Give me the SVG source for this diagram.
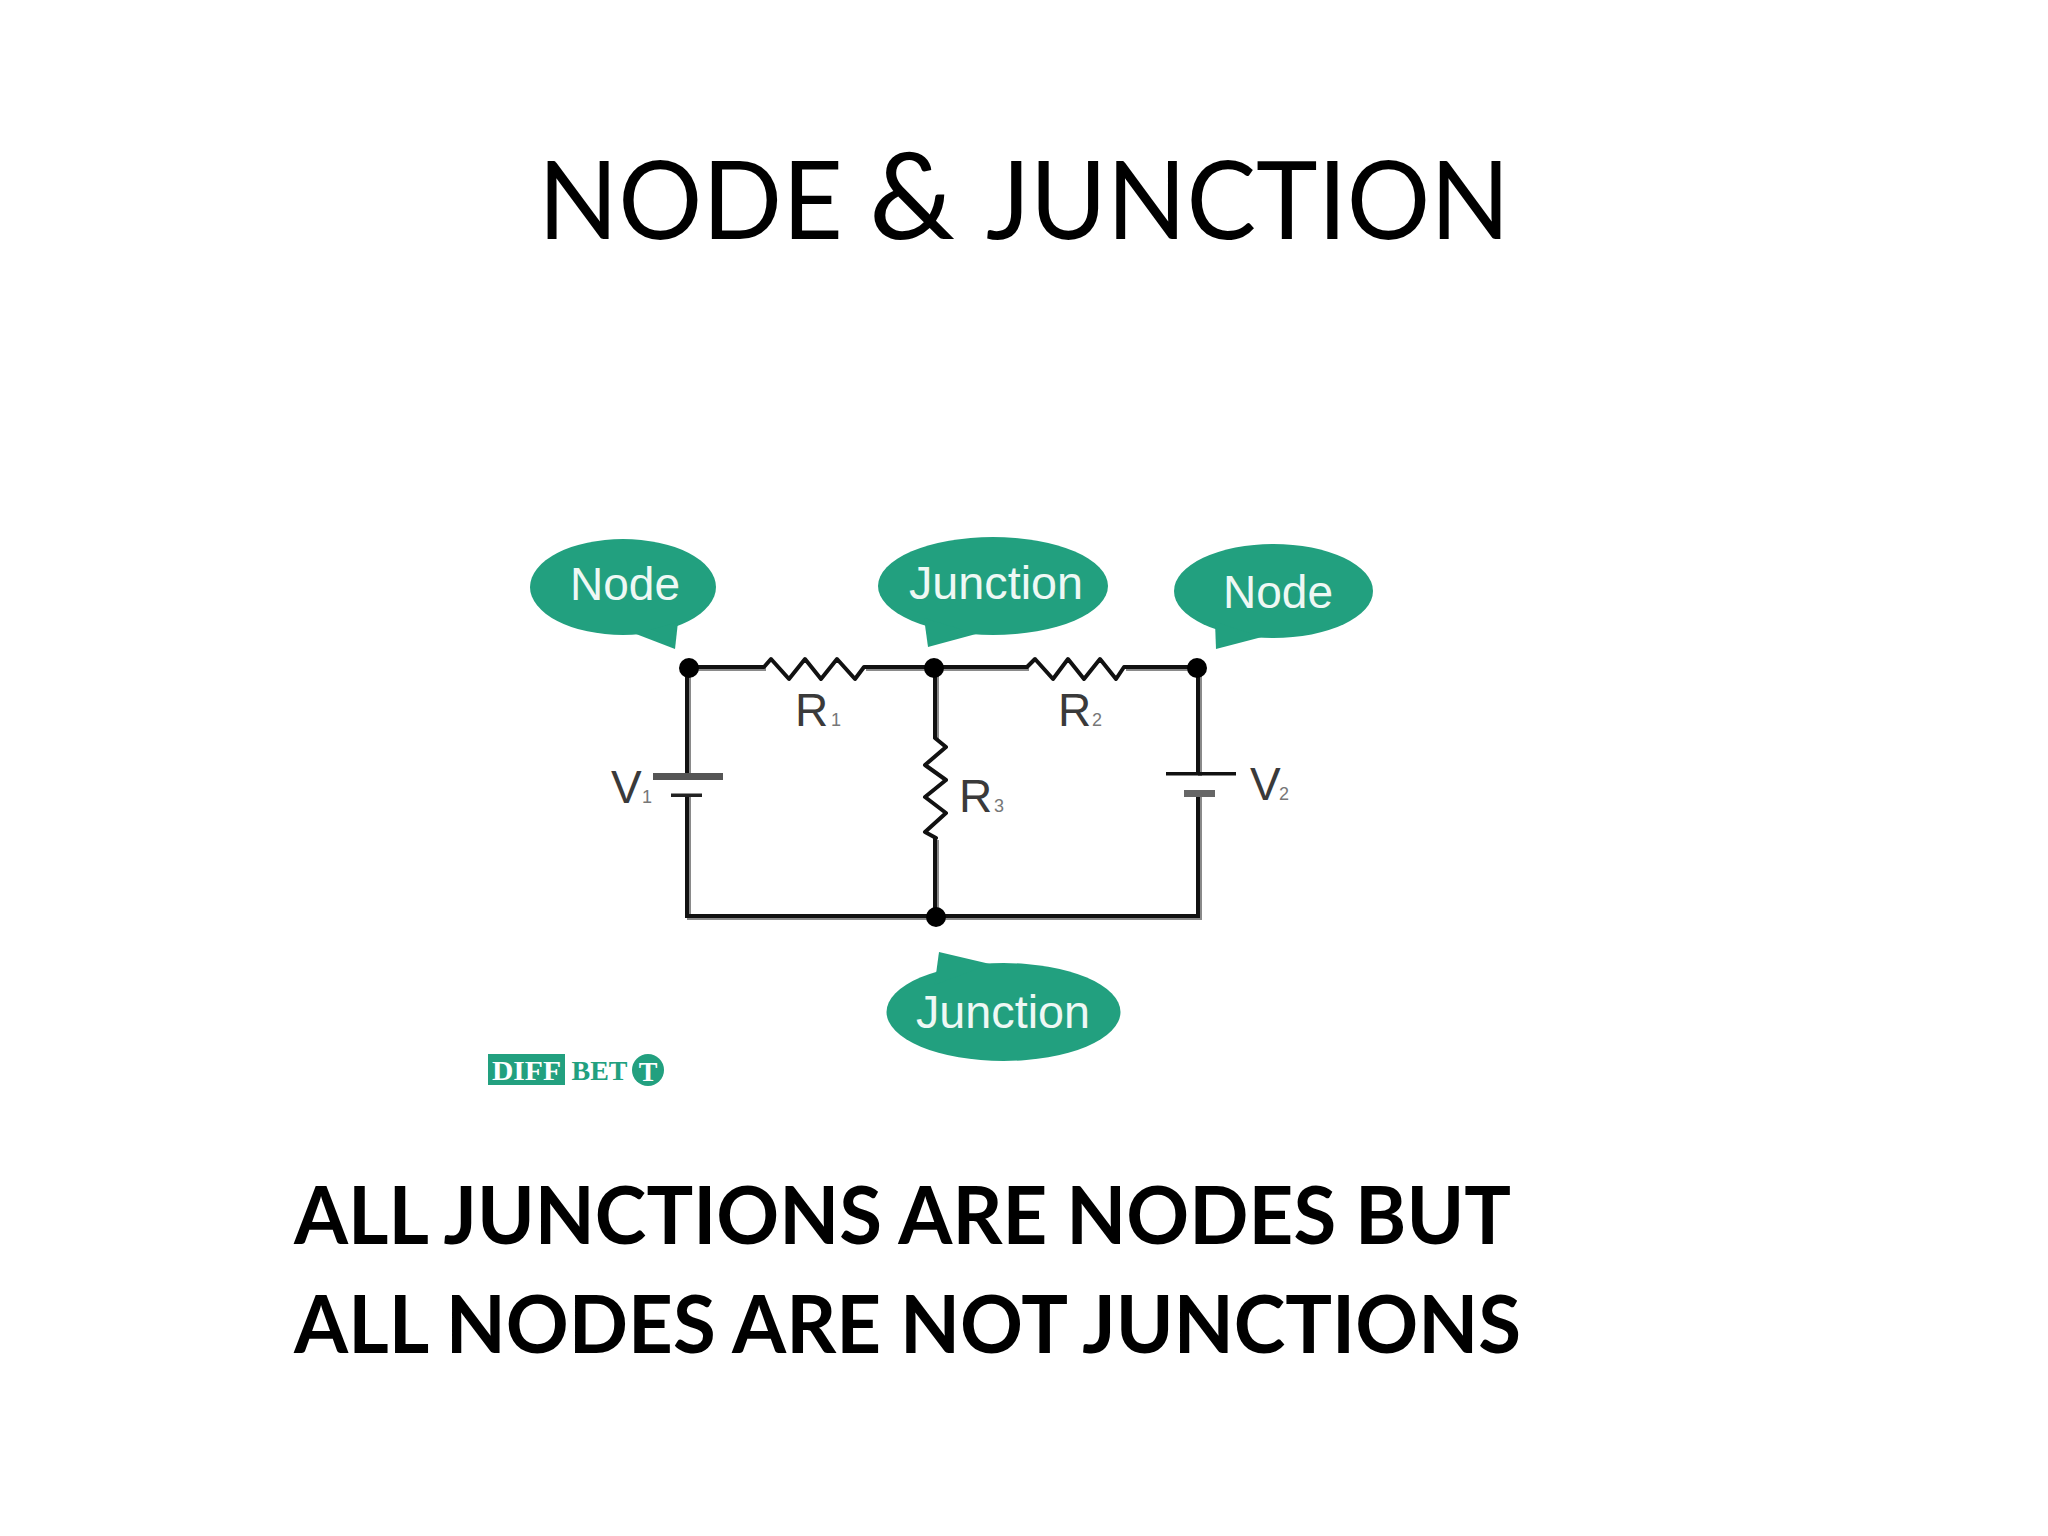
<svg xmlns="http://www.w3.org/2000/svg" width="2048" height="1536" viewBox="0 0 2048 1536">
<style>
.bub{fill:#22a07f}
.bl{font-family:"Liberation Sans",Arial,sans-serif;font-size:46px;fill:#eef8f4;text-anchor:middle}
.w{fill:none;stroke:#111;stroke-width:4}
.s{fill:none;stroke:#8a8a8a;stroke-width:4}
.r{fill:none;stroke:#111;stroke-width:4;stroke-linejoin:round;stroke-linecap:round}
.dot{fill:#000}
.lab{font-family:"Liberation Sans",Arial,sans-serif;font-size:46px;fill:#3a3a3a}
.sub{font-family:"Liberation Sans",Arial,sans-serif;font-size:18px;fill:#777}
.big{font-family:Lato,"Liberation Sans",sans-serif;fill:#000}
.logo{font-family:"Liberation Serif",serif;font-weight:bold}
</style>
<rect width="2048" height="1536" fill="#fff"/>
<g id="title">
<text class="big" x="538" y="239" font-size="108" textLength="305" lengthAdjust="spacingAndGlyphs">NODE</text>
<text class="big" x="869" y="239" font-size="121">&amp;</text>
<text class="big" x="986" y="239" font-size="108" textLength="524" lengthAdjust="spacingAndGlyphs">JUNCTION</text>
</g>
<g id="connectors">
<path class="s" transform="translate(2,2)" d="M689 667H764M864 667H1027M1124 667H1198V774M1198 793V916H687V795M687 775V667M935 667V738M935 838V916"/>
<path class="w" d="M689 667H764M864 667H1027M1124 667H1198V774M1198 793V916H687V795M687 775V667M935 667V738M935 838V916"/>
<path class="r" d="M764 667L771 659L789 679L805 659L821 679L837 659L855 679L864 667"/>
<path class="r" d="M1027 667L1035 659L1053 679L1068 659L1084 679L1100 659L1116 679L1124 667"/>
<path class="r" d="M935 738L946 747L925 765L946 780L925 797L946 813L925 832L936 838"/>
</g>
<g id="battery-v1"><rect x="653" y="773" width="70" height="7" fill="#555"/><rect x="671" y="793.500" width="31" height="3.500" fill="#222"/><text class="lab" x="611" y="803">V</text><text class="sub" x="642" y="803">1</text></g>
<g id="battery-v2"><rect x="1166" y="772" width="70" height="3.500" fill="#111"/><rect x="1184" y="790" width="31" height="7" fill="#666"/><text class="lab" x="1250" y="800">V</text><text class="sub" x="1279" y="800">2</text></g>
<g id="r1"><text class="lab" x="795" y="726">R</text><text class="sub" x="831" y="726">1</text></g>
<g id="r2"><text class="lab" x="1058" y="726">R</text><text class="sub" x="1092" y="726">2</text></g>
<g id="r3"><text class="lab" x="959" y="812">R</text><text class="sub" x="994" y="812">3</text></g>
<g id="dot-a"><circle class="dot" cx="689" cy="668" r="10"/></g>
<g id="dot-b"><circle class="dot" cx="934" cy="668" r="10"/></g>
<g id="dot-c"><circle class="dot" cx="1197" cy="668" r="10"/></g>
<g id="dot-d"><circle class="dot" cx="936" cy="917" r="10"/></g>
<g id="node-left"><ellipse class="bub" cx="623" cy="587" rx="93" ry="48"/><path class="bub" d="M636 634L675 649L678 622Z"/><text class="bl" x="625" y="600" textLength="110" lengthAdjust="spacingAndGlyphs">Node</text></g>
<g id="junction-top"><ellipse class="bub" cx="993" cy="586" rx="115" ry="49"/><path class="bub" d="M976 634L928 647L924 618Z"/><text class="bl" x="996" y="599" textLength="174" lengthAdjust="spacingAndGlyphs">Junction</text></g>
<g id="node-right"><ellipse class="bub" cx="1273.500" cy="591" rx="99.500" ry="47"/><path class="bub" d="M1262 637L1216 649L1215 622Z"/><text class="bl" x="1278" y="608" textLength="110" lengthAdjust="spacingAndGlyphs">Node</text></g>
<g id="junction-bottom"><ellipse class="bub" cx="1003.500" cy="1012" rx="117" ry="49"/><path class="bub" d="M990 964L939 952L934.500 985Z"/><text class="bl" x="1003" y="1028" textLength="174" lengthAdjust="spacingAndGlyphs">Junction</text></g>
<g id="logo">
<rect x="488" y="1054" width="77" height="31" fill="#22a07f"/>
<text class="logo" x="492" y="1080" font-size="28" fill="#fff" textLength="69" lengthAdjust="spacingAndGlyphs">DIFF</text>
<text class="logo" x="571.500" y="1080" font-size="28" fill="#22a07f" textLength="56" lengthAdjust="spacingAndGlyphs">BET</text>
<circle cx="648" cy="1070" r="16" fill="#22a07f"/>
<text class="logo" x="648" y="1081" font-size="28" fill="#fff" text-anchor="middle">T</text>
</g>
<text class="big" x="294" y="1244" font-size="80" font-weight="bold" textLength="1217" lengthAdjust="spacingAndGlyphs">ALL JUNCTIONS ARE NODES BUT</text>
<text class="big" x="294" y="1353" font-size="80" font-weight="bold" textLength="1227" lengthAdjust="spacingAndGlyphs">ALL NODES ARE NOT JUNCTIONS</text>
</svg>
